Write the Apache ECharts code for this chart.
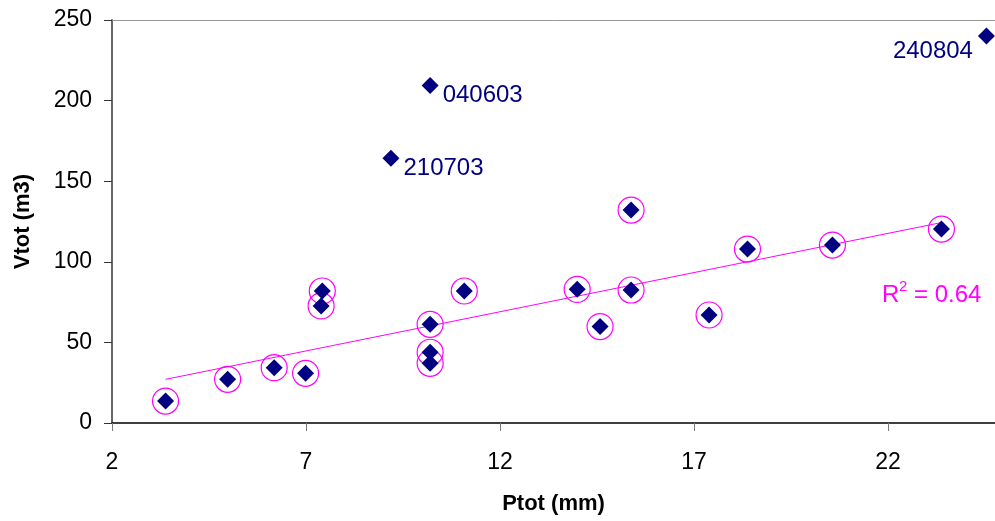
<!DOCTYPE html>
<html>
<head>
<meta charset="utf-8">
<script src="https://cdn.jsdelivr.net/npm/echarts@6/dist/echarts.min.js"></script>
<style>
  html, body { margin: 0; padding: 0; background: #fff; }
  #chart { width: 995px; height: 521px; }
</style>
</head>
<body>
<div id="chart"></div>
<script>
// circled points (used for the trend line)
const ptotCircled = [3.38, 4.98, 6.18, 6.99, 7.42, 7.39, 10.2, 10.2, 10.2, 11.08, 13.99, 15.38, 15.38, 14.58, 17.39, 18.38, 20.57, 23.38]
const vtotCircled = [13.6, 27.1, 34.3, 30.8, 81.9, 72.6, 61.2, 43.9, 37.0, 81.9, 82.9, 82.5, 132.1, 59.8, 67.0, 107.9, 110.4, 120.3]

// labelled outliers
const outlierNames = ['040603', '210703', '240804']
const ptotOutlier = [10.2, 9.19, 24.54]
const vtotOutlier = [209.3, 164.2, 240]

const xTicks = [2, 7, 12, 17, 22]
const yTicks = [0, 50, 100, 150, 200, 250]

const font = 'Arial, "Liberation Sans", sans-serif'
const navy = '#000080'
const pink = '#FF00FF'

// least squares fit on the circled points
const n = ptotCircled.length
const mx = ptotCircled.reduce((a, b) => a + b, 0) / n
const my = vtotCircled.reduce((a, b) => a + b, 0) / n
let sxx = 0
let sxy = 0
for (let i = 0; i < n; i++) {
  sxx += (ptotCircled[i] - mx) * (ptotCircled[i] - mx)
  sxy += (ptotCircled[i] - mx) * (vtotCircled[i] - my)
}
const slope = sxy / sxx
const icpt = my - slope * mx
const xMin = Math.min(...ptotCircled)
const xMax = Math.max(...ptotCircled)
const trend = [[xMin, icpt + slope * xMin], [xMax, icpt + slope * xMax]]

const circled = ptotCircled.map((x, i) => [x, vtotCircled[i]])
const outliers = ptotOutlier.map((x, i) => {
  const left = x > 20
  return {
    value: [x, vtotOutlier[i]],
    name: outlierNames[i],
    label: {
      position: left ? 'left' : 'right',
      offset: left ? [0, 15] : [-1, 10]
    }
  }
})

const chart = echarts.init(document.getElementById('chart'))

const option = {
  animation: false,
  grid: {
    left: 112,
    top: 20,
    right: 0,
    bottom: 98
  },
  xAxis: [
    {
      type: 'value',
      min: xTicks[0],
      max: 24.76, // plot runs off the right edge of the picture
      interval: 5,
      name: 'Ptot (mm)',
      nameLocation: 'middle',
      nameGap: 70,
      nameTextStyle: { fontFamily: font, fontSize: 22, fontWeight: 'bold', color: '#000' },
      axisLine: { onZero: false, lineStyle: { color: '#000', width: 1.5 } },
      axisTick: { length: 8, lineStyle: { color: '#777' } },
      axisLabel: { fontFamily: font, fontSize: 23, color: '#000', margin: 28, showMaxLabel: false },
      splitLine: { show: false }
    },
    {
      // top border of the plot area
      type: 'value',
      position: 'top',
      min: xTicks[0],
      max: 24.76,
      axisLine: { onZero: false, lineStyle: { color: '#999', width: 1 } },
      axisTick: { show: false },
      axisLabel: { show: false },
      splitLine: { show: false }
    }
  ],
  yAxis: {
    type: 'value',
    min: yTicks[0],
    max: yTicks[yTicks.length - 1],
    interval: 50,
    name: 'Vtot (m3)',
    nameLocation: 'middle',
    nameGap: 78,
    nameTextStyle: { fontFamily: font, fontSize: 22, fontWeight: 'bold', color: '#000' },
    axisLine: { onZero: false, lineStyle: { color: '#666', width: 2 } },
    axisTick: { length: 8, lineStyle: { color: '#333' } },
    axisLabel: { fontFamily: font, fontSize: 23, color: '#000', margin: 20 },
    splitLine: { show: false }
  },
  series: [
    {
      type: 'line',
      data: trend,
      symbol: 'none',
      lineStyle: { color: pink, width: 1 },
      z: 2
    },
    {
      type: 'scatter',
      data: circled,
      symbol: 'circle',
      symbolSize: 26,
      itemStyle: { color: 'rgba(0,0,0,0)', borderColor: pink, borderWidth: 1.2, opacity: 1 },
      z: 3
    },
    {
      type: 'scatter',
      data: circled,
      symbol: 'diamond',
      symbolSize: 17,
      itemStyle: { color: navy, opacity: 1 },
      z: 4
    },
    {
      type: 'scatter',
      data: outliers,
      symbol: 'diamond',
      symbolSize: 17,
      itemStyle: { color: navy, opacity: 1 },
      label: {
        show: true,
        formatter: '{b}',
        fontFamily: font,
        fontSize: 24,
        color: navy
      },
      z: 4
    }
  ],
  graphic: [
    { type: 'text', left: 882, top: 283, style: { text: 'R', font: '24px ' + font, fill: pink } },
    { type: 'text', left: 899, top: 279, style: { text: '2', font: '15px ' + font, fill: pink } },
    { type: 'text', left: 914, top: 283, style: { text: '= 0.64', font: '24px ' + font, fill: pink } }
  ]
}

chart.setOption(option)
</script>
</body>
</html>
